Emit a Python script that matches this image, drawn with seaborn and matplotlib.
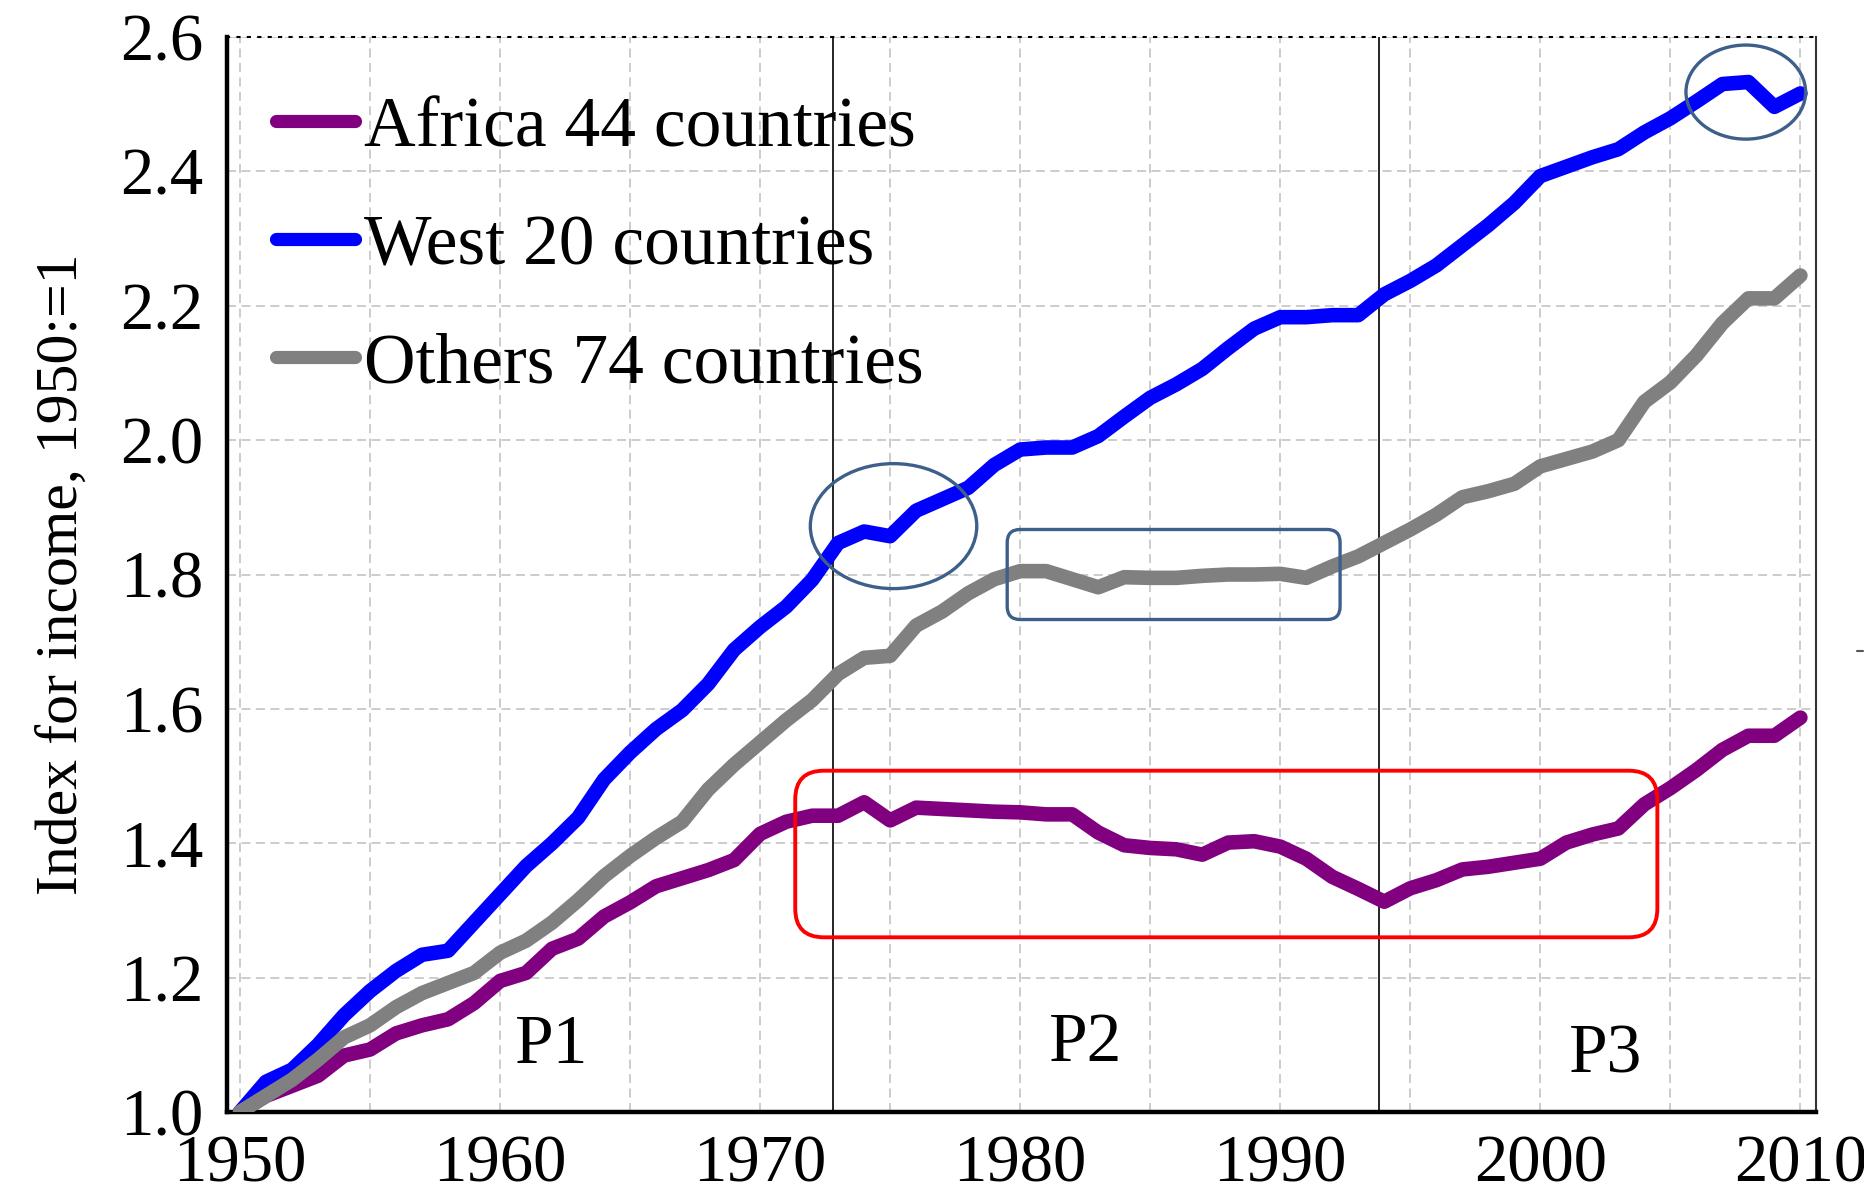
import numpy as np
import pandas as pd
import matplotlib
matplotlib.use("Agg")
import matplotlib.pyplot as plt
import seaborn as sns
from matplotlib.patches import Ellipse, FancyBboxPatch
from matplotlib.lines import Line2D

# ---------------- data ----------------
years = list(range(1950, 2011))

west = [1.000, 1.045, 1.063, 1.100, 1.144, 1.180, 1.210, 1.234, 1.240, 1.282,
        1.324, 1.366, 1.400, 1.438, 1.495, 1.535, 1.570, 1.598, 1.637, 1.688,
        1.722, 1.752, 1.792, 1.847, 1.864, 1.857, 1.895, 1.912, 1.929, 1.963,
        1.986, 1.989, 1.989, 2.006, 2.035, 2.063, 2.083, 2.106, 2.137, 2.166,
        2.183, 2.183, 2.186, 2.186, 2.217, 2.237, 2.260, 2.290, 2.320, 2.353,
        2.393, 2.407, 2.421, 2.433, 2.458, 2.479, 2.504, 2.530, 2.533, 2.496,
        2.516]

others = [1.000, 1.024, 1.048, 1.078, 1.111, 1.129, 1.156, 1.177, 1.192, 1.207,
          1.237, 1.255, 1.282, 1.315, 1.351, 1.381, 1.408, 1.432, 1.480, 1.517,
          1.550, 1.583, 1.613, 1.652, 1.676, 1.679, 1.724, 1.745, 1.772, 1.793,
          1.805, 1.805, 1.793, 1.781, 1.796, 1.795, 1.795, 1.798, 1.800, 1.800,
          1.801, 1.795, 1.812, 1.827, 1.847, 1.867, 1.889, 1.915, 1.924, 1.935,
          1.961, 1.972, 1.983, 2.000, 2.057, 2.086, 2.126, 2.174, 2.211, 2.211,
          2.245]

africa = [1.000, 1.024, 1.039, 1.054, 1.084, 1.093, 1.117, 1.129, 1.138, 1.162,
          1.195, 1.207, 1.243, 1.258, 1.291, 1.312, 1.336, 1.348, 1.360, 1.375,
          1.414, 1.432, 1.441, 1.441, 1.461, 1.434, 1.453, 1.451, 1.449, 1.447,
          1.446, 1.443, 1.443, 1.416, 1.397, 1.393, 1.391, 1.383, 1.401, 1.403,
          1.395, 1.377, 1.350, 1.332, 1.313, 1.333, 1.345, 1.361, 1.365, 1.371,
          1.377, 1.401, 1.413, 1.422, 1.458, 1.482, 1.509, 1.539, 1.560, 1.560,
          1.587]

series_names = ["Africa 44 countries", "West 20 countries", "Others 74 countries"]
series_colors = ["#800080", "#0000ff", "#808080"]
period_breaks = [1972.8, 1993.8]
period_labels = ["P1", "P2", "P3"]
period_label_x = [1962.0, 1982.5, 2002.5]
period_label_y = [1.098, 1.101, 1.083]
x_ticks = [1950, 1960, 1970, 1980, 1990, 2000, 2010]
y_ticks = [1.0, 1.2, 1.4, 1.6, 1.8, 2.0, 2.2, 2.4, 2.6]
y_label = "Index for income, 1950:=1"

df = pd.DataFrame({
    "year": years * 3,
    "value": africa + west + others,
    "region": [series_names[0]] * len(years) + [series_names[1]] * len(years)
              + [series_names[2]] * len(years),
})

# ---------------- style ----------------
sns.set_style("white")
plt.rcParams["font.family"] = ["Liberation Serif", "DejaVu Serif"]
plt.rcParams["text.color"] = "black"
plt.rcParams["axes.labelcolor"] = "black"
plt.rcParams["xtick.color"] = "black"
plt.rcParams["ytick.color"] = "black"

fig = plt.figure(figsize=(18.64, 11.93), dpi=100)
ax = fig.add_axes([227 / 1864, 81 / 1193, 1589 / 1864, 1075 / 1193])

sns.lineplot(data=df, x="year", y="value", hue="region", hue_order=series_names,
             palette=series_colors, linewidth=10.5, legend=False, ax=ax,
             estimator=None, zorder=3)
for ln in ax.lines:
    ln.set_solid_capstyle("round")
    ln.set_solid_joinstyle("round")

ax.set_xlim(1949.5, 2010.6)
ax.set_ylim(1.0, 2.6)
ax.set_xticks(x_ticks)
ax.set_xticks([1955, 1965, 1975, 1985, 1995, 2005], minor=True)
ax.set_yticks(y_ticks)
ax.set_yticklabels([f"{v:.1f}" for v in y_ticks])
ax.tick_params(axis="both", which="both", length=0, labelsize=48, colors="black")
ax.tick_params(axis="x", pad=16)
ax.tick_params(axis="y", pad=17)
ax.grid(True, which="both", color="#c8c8c8", linestyle=(0, (5, 3)), linewidth=1.3, zorder=0)
ax.set_axisbelow(True)
ax.set_xlabel("")
ax.set_ylabel(y_label, fontsize=43, labelpad=22, color="black")

for side in ["left", "bottom"]:
    ax.spines[side].set_linewidth(3.2)
    ax.spines[side].set_color("black")
ax.spines["right"].set_linewidth(1.5)
ax.spines["right"].set_color("#333333")
ax.spines["top"].set_linewidth(1.5)
ax.spines["top"].set_linestyle((0, (1, 4)))
ax.spines["top"].set_color("black")

# period separators
for xb in period_breaks:
    ax.axvline(xb, color="black", linewidth=1.2, zorder=2)

for lab, px, py in zip(period_labels, period_label_x, period_label_y):
    ax.text(px, py, lab, fontsize=50, ha="center", va="center", zorder=5, color="black")

# annotations
ann_col = "#3d5f8a"
ax.add_patch(Ellipse((1975.13, 1.872), 6.4, 0.186, fill=False, ec=ann_col, lw=2.4, zorder=4))
ax.add_patch(Ellipse((2007.9, 2.518), 4.6, 0.14, fill=False, ec=ann_col, lw=2.4, zorder=4))
asp = 0.0388
ax.add_patch(FancyBboxPatch((1979.5, 1.733), 12.8, 0.134,
                            boxstyle="round,pad=0,rounding_size=0.5",
                            mutation_aspect=asp, fill=False, ec=ann_col, lw=2.4, zorder=4))
ax.add_patch(FancyBboxPatch((1971.35, 1.26), 33.15, 0.248,
                            boxstyle="round,pad=0,rounding_size=1.1",
                            mutation_aspect=asp, fill=False, ec="#ff0000", lw=2.8, zorder=4))

# legend
handles = [Line2D([0], [0], color=c, lw=9.5, solid_capstyle="round") for c in series_colors]
leg = ax.legend(handles, series_names, loc="upper left", bbox_to_anchor=(0.031, 0.945),
                frameon=False, fontsize=51.5, handlelength=1.1, handletextpad=0.12,
                labelspacing=0.74, borderpad=0, borderaxespad=0)
for t in leg.get_texts():
    t.set_color("black")

# small stray mark at right edge
fig.add_artist(Line2D([1857 / 1864, 1863 / 1864], [1 - 651 / 1193] * 2,
                      color="#555555", lw=1.5))

fig.savefig("out.png", dpi=100)
